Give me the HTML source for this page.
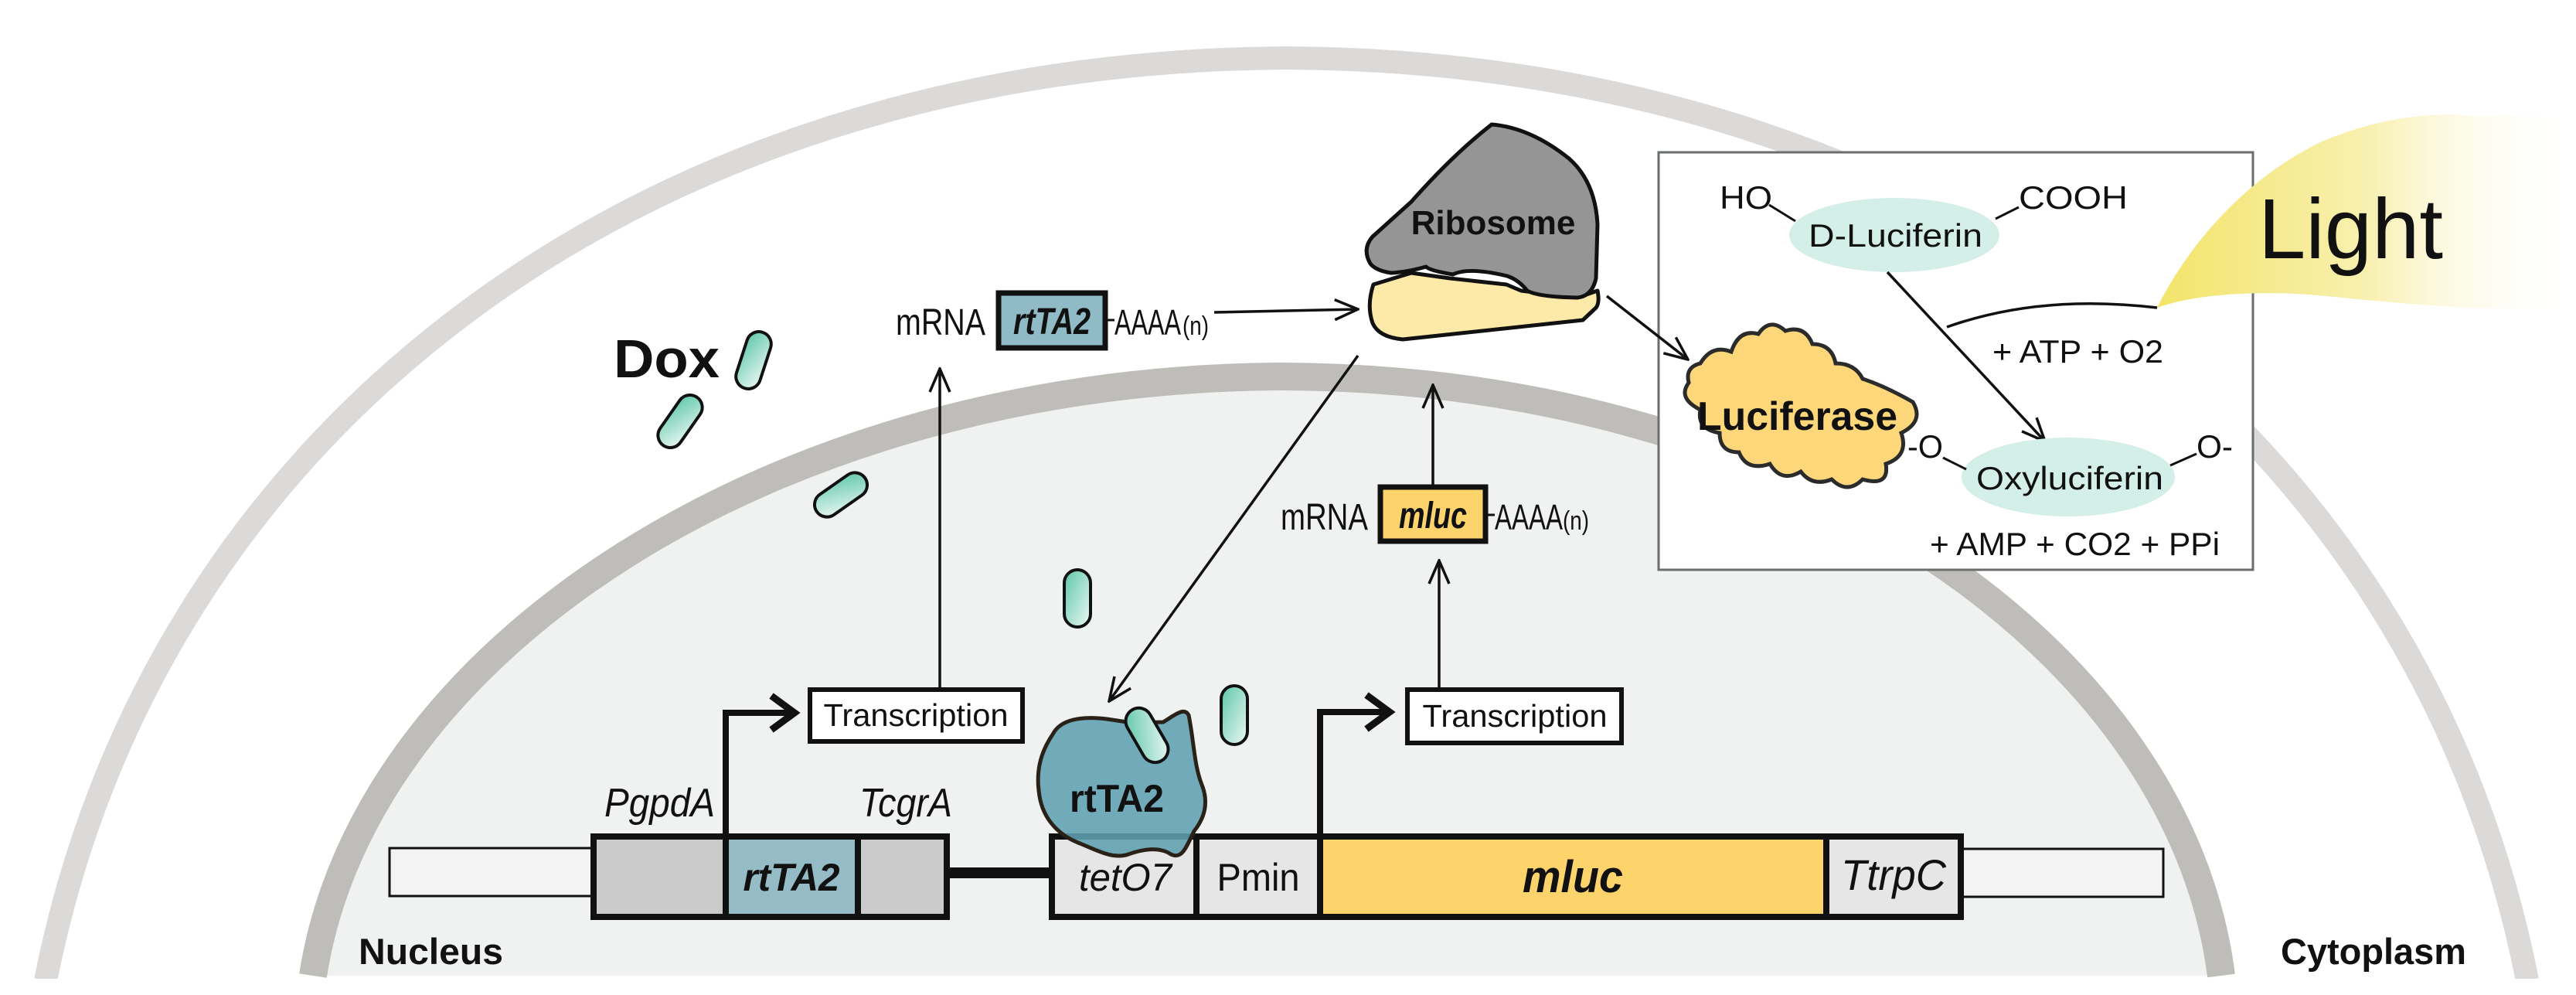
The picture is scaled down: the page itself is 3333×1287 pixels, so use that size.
<!DOCTYPE html>
<html><head><meta charset="utf-8"><style>
html,body{margin:0;padding:0;background:#fff;}
svg{display:block;}
text{font-family:"Liberation Sans",Arial,sans-serif;fill:#111;}
</style></head><body>
<svg width="3333" height="1287" viewBox="0 0 3333 1287" xmlns="http://www.w3.org/2000/svg">
<defs>
<linearGradient id="pill" x1="0" y1="0" x2="1" y2="1">
<stop offset="0" stop-color="#5cc6a8"/><stop offset="1" stop-color="#eef9f5"/>
</linearGradient>
<linearGradient id="glow" x1="0" y1="0" x2="1" y2="0">
<stop offset="0" stop-color="#f3e46a"/><stop offset="0.5" stop-color="#f8f0b0"/><stop offset="1" stop-color="#ffffff" stop-opacity="0"/>
</linearGradient>
<marker id="ah" markerWidth="34" markerHeight="34" refX="32" refY="17" orient="auto" markerUnits="userSpaceOnUse">
<path d="M2,4 L32,17 L2,30" fill="none" stroke="#111" stroke-width="3.5"/>
</marker>
<marker id="ahb" markerWidth="60" markerHeight="60" refX="44" refY="30" orient="auto" markerUnits="userSpaceOnUse">
<path d="M14,8 L44,30 L14,52" fill="none" stroke="#111" stroke-width="9"/>
</marker>
</defs>

<path d="M59,1268 C200,560 820,80 1665,75 C2510,80 3130,560 3270,1268" fill="#fff" stroke="#dbdad8" stroke-width="30"/>
<path d="M405,1262 C470,840 1000,490 1660,487 C2320,490 2820,840 2874,1262 Z" fill="#f0f2f1" stroke="none"/>
<path d="M405,1262 C470,840 1000,490 1660,487 C2320,490 2820,840 2874,1262" fill="none" stroke="#bebdb9" stroke-width="36"/>
<rect x="0" y="1266" width="3333" height="21" fill="#fff"/>

<rect x="2146" y="197" width="769" height="540" fill="#fff" stroke="#6a6e6c" stroke-width="3"/>
<path d="M2791,398 C2830,320 2900,235 3000,185 C3080,150 3150,145 3200,150 L3333,150 L3333,400 C3200,402 3100,392 3000,382 C2900,374 2830,384 2791,398 Z" fill="url(#glow)"/>
<text x="2922" y="334" font-size="110" textLength="239" lengthAdjust="spacingAndGlyphs">Light</text>
<path d="M2519,423 Q2640,380 2791,398" fill="none" stroke="#111" stroke-width="3.5"/>

<ellipse cx="2451" cy="304" rx="136" ry="48" fill="#d4eee8"/>
<text x="2340" y="319" font-size="42" textLength="225" lengthAdjust="spacingAndGlyphs">D-Luciferin</text>
<text x="2225" y="270" font-size="42" textLength="68" lengthAdjust="spacingAndGlyphs">HO</text>
<text x="2612" y="270" font-size="42" textLength="141" lengthAdjust="spacingAndGlyphs">COOH</text>
<line x1="2289" y1="265" x2="2323" y2="286" stroke="#111" stroke-width="3"/>
<line x1="2582" y1="283" x2="2612" y2="268" stroke="#111" stroke-width="3"/>
<line x1="2442" y1="352" x2="2646" y2="571" stroke="#111" stroke-width="3.5" marker-end="url(#ah)"/>
<text x="2578" y="469" font-size="42" textLength="221" lengthAdjust="spacingAndGlyphs">+ ATP + O2</text>

<ellipse cx="2676" cy="617" rx="138" ry="51" fill="#d4eee8"/>
<text x="2557" y="633" font-size="42" textLength="242" lengthAdjust="spacingAndGlyphs">Oxyluciferin</text>
<text x="2468" y="592" font-size="42" textLength="46" lengthAdjust="spacingAndGlyphs">-O</text>
<text x="2842" y="592" font-size="42" textLength="47" lengthAdjust="spacingAndGlyphs">O-</text>
<line x1="2514" y1="592" x2="2544" y2="607" stroke="#111" stroke-width="3"/>
<line x1="2808" y1="602" x2="2842" y2="587" stroke="#111" stroke-width="3"/>
<text x="2497" y="718" font-size="42" textLength="375" lengthAdjust="spacingAndGlyphs">+ AMP + CO2 + PPi</text>

<path d="M2200,470 Q2215,445 2240,455 Q2250,425 2275,432 Q2290,410 2310,428 Q2335,420 2345,445 Q2370,445 2375,470 Q2400,470 2410,490 Q2440,500 2475,520 Q2490,545 2460,560 Q2470,590 2440,600 Q2445,630 2410,620 Q2390,640 2370,620 Q2345,630 2330,610 Q2305,625 2290,600 Q2260,610 2250,585 Q2225,585 2225,560 Q2195,555 2200,530 Q2170,515 2185,495 Q2180,475 2200,470 Z" fill="#fdd77a" stroke="#2b2b2b" stroke-width="5"/>
<text x="2196" y="556" font-size="52" font-weight="bold" textLength="259" lengthAdjust="spacingAndGlyphs">Luciferase</text>

<path d="M1777,368 L1826,353 L1876,360 L1949,368 L1968,376 L2041,385 L2067,376 Q2070,392 2065,398 L2048,414 L1815,439 Q1784,436 1776,418 Q1768,395 1777,368 Z" fill="#fdeaa8" stroke="#111" stroke-width="5" stroke-linejoin="round"/>
<path d="M1773,341 Q1762,322 1776,306 L1826,261 Q1880,200 1930,161 Q1980,165 2030,205 Q2064,235 2067,290 L2065,360 Q2060,383 2041,385 Q1990,384 1976,376 Q1965,362 1950,357 Q1900,345 1880,355 Q1850,350 1845,345 Q1820,352 1800,353 Q1780,350 1773,341 Z" fill="#959595" stroke="#111" stroke-width="5" stroke-linejoin="round"/>
<text x="1932" y="303" font-size="44" font-weight="bold" text-anchor="middle">Ribosome</text>

<line x1="1571" y1="404" x2="1757" y2="400" stroke="#111" stroke-width="3.5" marker-end="url(#ah)"/>
<line x1="1757" y1="460" x2="1435" y2="907" stroke="#111" stroke-width="3.5" marker-end="url(#ah)"/>
<line x1="2079" y1="383" x2="2184" y2="465" stroke="#111" stroke-width="3.5" marker-end="url(#ah)"/>
<line x1="1216" y1="892" x2="1216" y2="477" stroke="#111" stroke-width="3.5" marker-end="url(#ah)"/>
<line x1="1862" y1="892" x2="1862" y2="725" stroke="#111" stroke-width="3.5" marker-end="url(#ah)"/>
<line x1="1854" y1="630" x2="1854" y2="498" stroke="#111" stroke-width="3.5" marker-end="url(#ah)"/>

<text x="1159" y="433" font-size="48" textLength="116" lengthAdjust="spacingAndGlyphs">mRNA</text>
<rect x="1292" y="379" width="138" height="71" fill="#8fbac6" stroke="#111" stroke-width="7"/>
<text x="1361" y="432" font-size="48" font-weight="bold" font-style="italic" text-anchor="middle" textLength="100" lengthAdjust="spacingAndGlyphs">rtTA2</text>
<line x1="1430" y1="414" x2="1442" y2="414" stroke="#111" stroke-width="3"/>
<text x="1442" y="433" font-size="46" textLength="86" lengthAdjust="spacingAndGlyphs">AAAA</text>
<text x="1530" y="433" font-size="34" textLength="34" lengthAdjust="spacingAndGlyphs">(n)</text>

<text x="1657" y="685" font-size="48" textLength="113" lengthAdjust="spacingAndGlyphs">mRNA</text>
<rect x="1786" y="630" width="136" height="70" fill="#fdd46c" stroke="#111" stroke-width="7"/>
<text x="1854" y="683" font-size="48" font-weight="bold" font-style="italic" text-anchor="middle" textLength="88" lengthAdjust="spacingAndGlyphs">mluc</text>
<line x1="1922" y1="666" x2="1934" y2="666" stroke="#111" stroke-width="3"/>
<text x="1934" y="685" font-size="46" textLength="88" lengthAdjust="spacingAndGlyphs">AAAA</text>
<text x="2022" y="685" font-size="34" textLength="34" lengthAdjust="spacingAndGlyphs">(n)</text>

<text x="794" y="488" font-size="70" font-weight="bold" textLength="137" lengthAdjust="spacingAndGlyphs">Dox</text>
<g stroke="#111" stroke-width="4" fill="url(#pill)">
<rect x="-16" y="-38" width="32" height="76" rx="16" transform="translate(975,466) rotate(18)"/>
<rect x="-16" y="-38" width="32" height="76" rx="16" transform="translate(880,545) rotate(35)"/>
<rect x="-16" y="-38" width="32" height="76" rx="16" transform="translate(1088,640) rotate(55)"/>
<rect x="-17" y="-37" width="34" height="74" rx="17" transform="translate(1394,774)"/>
<rect x="-17" y="-38" width="34" height="76" rx="17" transform="translate(1597,925)"/>
</g>

<rect x="1048" y="892" width="275" height="67" fill="#fff" stroke="#111" stroke-width="6"/>
<text x="1185" y="939" font-size="41" text-anchor="middle" textLength="239" lengthAdjust="spacingAndGlyphs">Transcription</text>
<rect x="1821" y="892" width="277" height="69" fill="#fff" stroke="#111" stroke-width="6"/>
<text x="1960" y="940" font-size="41" text-anchor="middle" textLength="239" lengthAdjust="spacingAndGlyphs">Transcription</text>

<path d="M939,1080 V922 H1028" fill="none" stroke="#111" stroke-width="8" marker-end="url(#ahb)"/>
<path d="M1708,1080 V921 H1798" fill="none" stroke="#111" stroke-width="8" marker-end="url(#ahb)"/>

<rect x="504" y="1097" width="262" height="62" fill="#f2f3f2" stroke="#111" stroke-width="3"/>
<rect x="2537" y="1098" width="262" height="62" fill="#f2f3f2" stroke="#111" stroke-width="3"/>
<rect x="1225" y="1122" width="136" height="14" fill="#111"/>
<g stroke="#111" stroke-width="8">
<rect x="768" y="1082" width="171" height="104" fill="#cbcbcb"/>
<rect x="939" y="1082" width="171" height="104" fill="#94bbc6"/>
<rect x="1110" y="1082" width="115" height="104" fill="#cbcbcb"/>
<rect x="1361" y="1082" width="187" height="104" fill="#e6e6e6"/>
<rect x="1548" y="1082" width="160" height="104" fill="#e6e6e6"/>
<rect x="1708" y="1082" width="655" height="104" fill="#fdd46c"/>
<rect x="2363" y="1082" width="174" height="104" fill="#e6e6e6"/>
</g>
<text x="782" y="1056" font-size="52" font-style="italic" textLength="143" lengthAdjust="spacingAndGlyphs">PgpdA</text>
<text x="1112" y="1056" font-size="52" font-style="italic" textLength="120" lengthAdjust="spacingAndGlyphs">TcgrA</text>
<text x="1024" y="1152" font-size="50" font-weight="bold" font-style="italic" text-anchor="middle" textLength="125" lengthAdjust="spacingAndGlyphs">rtTA2</text>
<text x="1456" y="1152" font-size="50" font-style="italic" text-anchor="middle" textLength="120" lengthAdjust="spacingAndGlyphs">tetO7</text>
<text x="1628" y="1152" font-size="50" text-anchor="middle" textLength="107" lengthAdjust="spacingAndGlyphs">Pmin</text>
<text x="2035" y="1154" font-size="58" font-weight="bold" font-style="italic" text-anchor="middle" textLength="130" lengthAdjust="spacingAndGlyphs">mluc</text>
<text x="2450" y="1151" font-size="56" font-style="italic" text-anchor="middle" textLength="136" lengthAdjust="spacingAndGlyphs">TtrpC</text>

<path d="M1362,950 C1372,930 1400,926 1432,930 L1465,935 L1505,934 C1520,925 1532,914 1538,925 C1545,960 1545,990 1555,1015 C1565,1040 1557,1060 1545,1075 C1535,1095 1530,1112 1515,1105 C1500,1095 1480,1098 1460,1105 C1440,1112 1420,1100 1395,1090 C1370,1080 1350,1060 1345,1030 C1340,1000 1345,975 1362,950 Z" fill="#5f9fb1" fill-opacity="0.88" stroke="#2a2218" stroke-width="5"/>
<rect x="-17" y="-38" width="34" height="76" rx="17" transform="translate(1484,951) rotate(-30)" fill="url(#pill)" stroke="#111" stroke-width="4"/>
<text x="1445" y="1050" font-size="50" font-weight="bold" text-anchor="middle" textLength="122" lengthAdjust="spacingAndGlyphs">rtTA2</text>

<text x="464" y="1247" font-size="47" font-weight="bold" textLength="187" lengthAdjust="spacingAndGlyphs">Nucleus</text>
<text x="2951" y="1247" font-size="47" font-weight="bold" textLength="240" lengthAdjust="spacingAndGlyphs">Cytoplasm</text>
</svg>
</body></html>
